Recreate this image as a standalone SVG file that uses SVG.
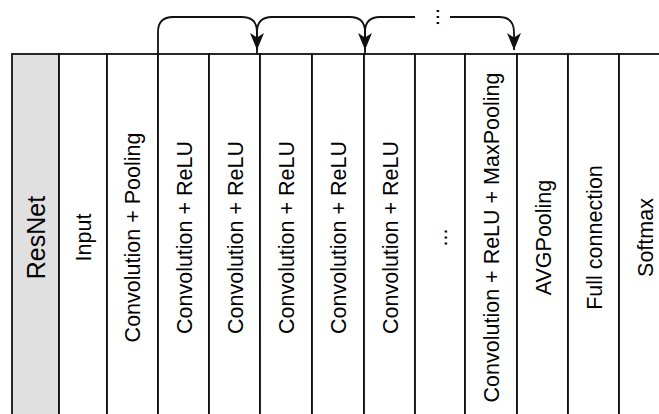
<svg xmlns="http://www.w3.org/2000/svg" width="659" height="414" viewBox="0 0 659 414">
<style>
.cell{fill:#fff;stroke:#111;stroke-width:1.8}
.head{fill:#e0e0e0;stroke:#111;stroke-width:1.8}
.lbl{font-family:"Liberation Sans",Arial,sans-serif;font-size:21.5px;fill:#000;text-anchor:middle;dominant-baseline:central}
.hlbl{font-size:25px}
.edge{fill:none;stroke:#111;stroke-width:1.8;marker-end:url(#arr)}
</style>
<defs>
<marker id="arr" markerUnits="userSpaceOnUse" markerWidth="20" markerHeight="16" refX="17" refY="8" orient="auto">
<path d="M0,1 L17,8 L0,15 L4.5,8 Z" fill="#111"/>
</marker>
</defs>
<rect width="659" height="414" fill="#fff"/>
<g id="col-resnet"><rect class="head" x="12" y="54" width="47" height="370"/><text class="lbl hlbl" transform="translate(35.5,237.5) rotate(-90)">ResNet</text></g>
<g id="col-input"><rect class="cell" x="59" y="54" width="48" height="370"/><text class="lbl" transform="translate(83.5,237.5) rotate(-90)">Input</text></g>
<g id="col-convpool"><rect class="cell" x="107" y="54" width="51" height="370"/><text class="lbl" transform="translate(133,237.5) rotate(-90)">Convolution + Pooling</text></g>
<g id="col-conv1"><rect class="cell" x="158" y="54" width="51" height="370"/><text class="lbl" transform="translate(184.5,237.5) rotate(-90)">Convolution + ReLU</text></g>
<g id="col-conv2"><rect class="cell" x="209" y="54" width="51" height="370"/><text class="lbl" transform="translate(235.5,237.5) rotate(-90)">Convolution + ReLU</text></g>
<g id="col-conv3"><rect class="cell" x="260" y="54" width="52" height="370"/><text class="lbl" transform="translate(287,237.5) rotate(-90)">Convolution + ReLU</text></g>
<g id="col-conv4"><rect class="cell" x="312" y="54" width="52" height="370"/><text class="lbl" transform="translate(339,237.5) rotate(-90)">Convolution + ReLU</text></g>
<g id="col-conv5"><rect class="cell" x="364" y="54" width="51" height="370"/><text class="lbl" transform="translate(390.5,237.5) rotate(-90)">Convolution + ReLU</text></g>
<g id="col-dots"><rect class="cell" x="415" y="54" width="50" height="370"/><text class="lbl" transform="translate(440,237.5) rotate(-90)">...</text></g>
<g id="col-convmax"><rect class="cell" x="465" y="54" width="52" height="370"/><text class="lbl" transform="translate(492,237.5) rotate(-90)">Convolution + ReLU + MaxPooling</text></g>
<g id="col-avg"><rect class="cell" x="517" y="54" width="51" height="370"/><text class="lbl" transform="translate(543.5,237.5) rotate(-90)">AVGPooling</text></g>
<g id="col-fc"><rect class="cell" x="568" y="54" width="51" height="370"/><text class="lbl" transform="translate(594.5,237.5) rotate(-90)">Full connection</text></g>
<g id="col-softmax"><rect class="cell" x="619" y="54" width="51" height="370"/><text class="lbl" transform="translate(645.5,237.5) rotate(-90)">Softmax</text></g>
<g id="connectors">
<path class="edge" d="M158,54 V32 Q158,17 173,17 H242 Q257,17 257,32 V50"/>
<path class="edge" d="M257,54 V32 Q257,17 272,17 H350 Q365,17 365,32 V50"/>
<path class="edge" d="M365,54 V32 Q365,17 380,17 H499 Q514,17 514,32 V50"/>
<rect x="415" y="6" width="35" height="22" fill="#fff"/>
<text class="lbl" transform="translate(432,17) rotate(-90)">...</text>
</g>
</svg>
